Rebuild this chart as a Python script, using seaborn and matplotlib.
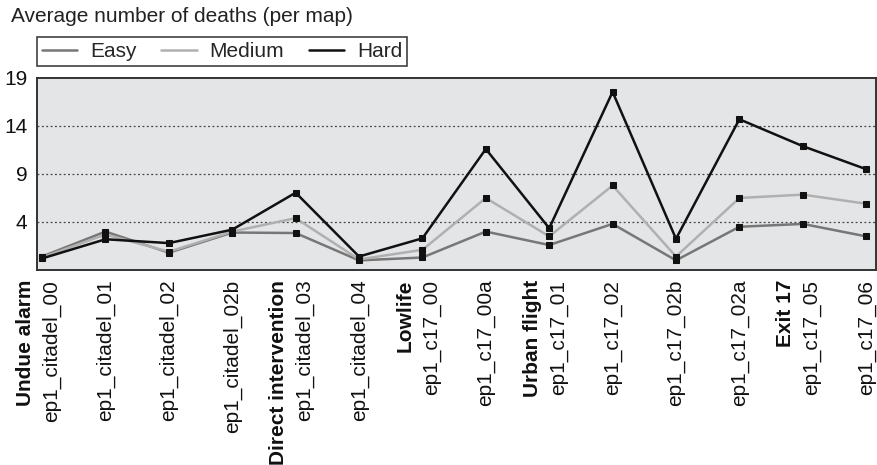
import matplotlib
matplotlib.use("Agg")
import matplotlib.pyplot as plt
import matplotlib.transforms as mtransforms
from matplotlib.lines import Line2D
import seaborn as sns
import pandas as pd

maps = ["ep1_citadel_00", "ep1_citadel_01", "ep1_citadel_02", "ep1_citadel_02b",
        "ep1_citadel_03", "ep1_citadel_04", "ep1_c17_00", "ep1_c17_00a",
        "ep1_c17_01", "ep1_c17_02", "ep1_c17_02b", "ep1_c17_02a",
        "ep1_c17_05", "ep1_c17_06"]
chapters = {0: "Undue alarm", 4: "Direct intervention", 6: "Lowlife",
            8: "Urban flight", 12: "Exit 17"}
easy = [0.4, 3.0, 0.8, 2.9, 2.85, 0.0, 0.3, 3.0, 1.6, 3.8, 0.0, 3.5, 3.8, 2.5]
medium = [0.3, 2.7, 0.9, 3.0, 4.4, 0.1, 1.1, 6.5, 2.5, 7.8, 0.4, 6.5, 6.85, 5.9]
hard = [0.2, 2.2, 1.8, 3.2, 7.05, 0.4, 2.3, 11.6, 3.35, 17.55, 2.25, 14.7, 11.9, 9.5]
levels = ["Easy", "Medium", "Hard"]
colors = {"Easy": "#777777", "Medium": "#b0b0b0", "Hard": "#111111"}

df = pd.DataFrame({
    "pos": list(range(len(maps))) * 3,
    "deaths": easy + medium + hard,
    "level": ["Easy"] * len(maps) + ["Medium"] * len(maps) + ["Hard"] * len(maps),
})

sns.set_style("white")
plt.rcParams["font.family"] = ["Liberation Sans", "DejaVu Sans"]

fig = plt.figure(figsize=(8.77, 4.65), dpi=100)
ax = fig.add_axes([0.0422, 0.4194, 0.957, 0.4129])
ax.set_facecolor("#e4e5e7")

sns.lineplot(data=df, x="pos", y="deaths", hue="level", hue_order=levels,
             palette=colors, marker="s", markersize=5, markerfacecolor="#111111",
             markeredgecolor="#111111", linewidth=1.8, legend=False, ax=ax)

ax.set_xlim(-0.08, 13.16)
ax.set_ylim(-1, 19)
ax.set_yticks([4, 9, 14, 19])
ax.set_xticks(range(len(maps)))
ax.set_xticklabels(maps, rotation=90, va="top", ha="center")
ax.set_xlabel("")
ax.set_ylabel("")
ax.tick_params(axis="both", length=0, labelsize=15, colors="#111111")
ax.tick_params(axis="x", pad=7)
ax.tick_params(axis="y", pad=7)

for y in [4, 9, 14]:
    ax.axhline(y, color="#444444", linestyle=(0, (1.5, 2)), linewidth=0.9, zorder=0)

for s in ax.spines.values():
    s.set_visible(True)
    s.set_color("#333333")
    s.set_linewidth(1.4)

# shift labels that share a slot with a chapter name
shift = mtransforms.ScaledTranslation(0.09, 0, fig.dpi_scale_trans)
labels = ax.get_xticklabels()
for i in chapters:
    labels[i].set_transform(labels[i].get_transform() + shift)

trans = mtransforms.blended_transform_factory(ax.transData, ax.transAxes)
left = mtransforms.ScaledTranslation(-0.17, 0, fig.dpi_scale_trans)
for i, name in chapters.items():
    ax.text(i, -0.052, name, transform=trans + left, rotation=90, ha="center",
            va="top", fontsize=15, fontweight="bold", color="#111111")

fig.text(0.012, 0.985, "Average number of deaths (per map)", fontsize=15,
         va="top", ha="left", color="#222222")

handles = [Line2D([], [], color=colors[l], linewidth=1.8) for l in levels]
leg = fig.legend(handles, levels, loc="upper left", bbox_to_anchor=(0.042, 0.921),
                 ncol=3, frameon=True, fancybox=False, fontsize=15, handlelength=1.7,
                 columnspacing=1.2, handletextpad=0.6, borderpad=0.25, borderaxespad=0)
leg.get_frame().set_edgecolor("#111111")
leg.get_frame().set_linewidth(1.2)

fig.savefig("out.png", dpi=100)
